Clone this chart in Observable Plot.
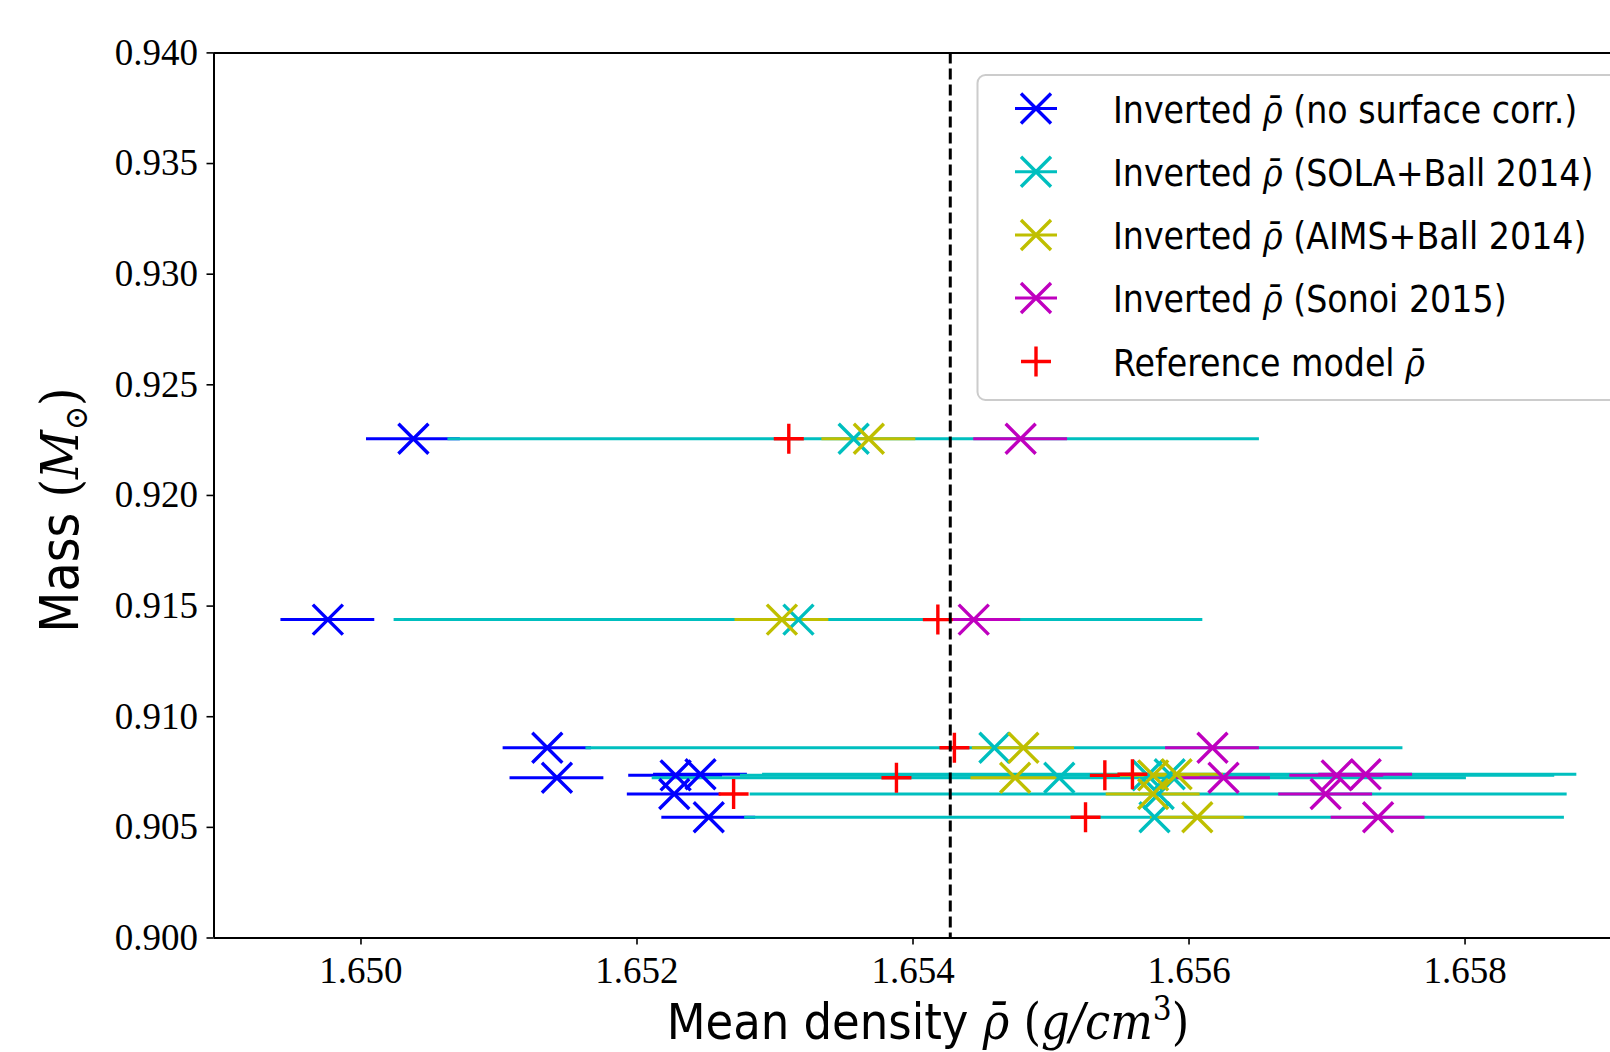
<!DOCTYPE html>
<html>
<head>
<meta charset="utf-8">
<script src="https://cdn.jsdelivr.net/npm/d3@7"></script>
<script src="https://cdn.jsdelivr.net/npm/@observablehq/plot@0.6"></script>
<style>
  html, body { margin: 0; padding: 0; background: #fff; }
  #chart { position: relative; width: 1610px; height: 1052px; overflow: hidden; }
</style>
</head>
<body>
<div id="chart"></div>
<script>
// ---- data ----
const mass = [0.92256, 0.91439, 0.90860, 0.90735, 0.90740, 0.90724, 0.90651, 0.90546];

const rhoNoCorr   = [1.65038, 1.64976, 1.65135, 1.65228, 1.65246, 1.65142, 1.65227, 1.65252];
const errNoCorr   = [0.00034, 0.00034, 0.00032, 0.00034, 0.00034, 0.00034, 0.00034, 0.00034];

const rhoSola     = [1.65357, 1.65317, 1.65459, 1.65570, 1.65586, 1.65506, 1.65578, 1.65575];
const errSola     = [0.00294, 0.00293, 0.00296, 0.00295, 0.00295, 0.00295, 0.00296, 0.00297];

const rhoAims     = [1.65368, 1.65305, 1.65480, 1.65574, 1.65591, 1.65474, 1.65574, 1.65606];
const errAims     = [0.00034, 0.00034, 0.00037, 0.00034, 0.00034, 0.00032, 0.00034, 0.00034];

const rhoSonoi    = [1.65478, 1.65444, 1.65617, 1.65707, 1.65728, 1.65625, 1.65699, 1.65737];
const errSonoi    = [0.00034, 0.00034, 0.00034, 0.00034, 0.00034, 0.00034, 0.00034, 0.00034];

const rhoRef      = [1.65310, 1.65418, 1.65430, 1.65539, 1.65559, 1.65388, 1.65270, 1.65525];

const refLine = 1.65427;

const xTicks = [1.650, 1.652, 1.654, 1.656, 1.658];
const yTicks = [0.900, 0.905, 0.910, 0.915, 0.920, 0.925, 0.930, 0.935, 0.940];
const xDomain = [1.648935, 1.659054];
const yDomain = [0.900, 0.940];

const seriesNames = [
  "Inverted ρ̄ (no surface corr.)",
  "Inverted ρ̄ (SOLA+Ball 2014)",
  "Inverted ρ̄ (AIMS+Ball 2014)",
  "Inverted ρ̄ (Sonoi 2015)",
  "Reference model ρ̄"
];
const seriesColors = ["#0000ff", "#00bfbf", "#bfbf00", "#bf00bf", "#ff0000"];

// ---- build tables ----
const inverted = [
  {vals: rhoNoCorr, errs: errNoCorr, color: seriesColors[0]},
  {vals: rhoSola,   errs: errSola,   color: seriesColors[1]},
  {vals: rhoAims,   errs: errAims,   color: seriesColors[2]},
  {vals: rhoSonoi,  errs: errSonoi,  color: seriesColors[3]}
].map(s => ({
  color: s.color,
  rows: mass.map((m, i) => ({mass: m, rho: s.vals[i], lo: s.vals[i] - s.errs[i], hi: s.vals[i] + s.errs[i]}))
}));
const refRows = mass.map((m, i) => ({mass: m, rho: rhoRef[i]}));

const LW = 3;
const MW = 3.4;
const marks = [];
// error bars first (below all markers, as in matplotlib)
for (const s of inverted) {
  marks.push(Plot.ruleY(s.rows, {y: "mass", x1: "lo", x2: "hi", stroke: s.color, strokeWidth: LW}));
}
for (const s of inverted) {
  marks.push(Plot.dot(s.rows, {x: "rho", y: "mass", symbol: "times", r: 13.7, stroke: s.color, strokeWidth: MW}));
}
marks.push(Plot.dot(refRows, {x: "rho", y: "mass", symbol: "plus", r: 9.7, stroke: seriesColors[4], strokeWidth: MW}));
marks.push(Plot.ruleX([refLine], {stroke: "black", strokeWidth: 3, strokeDasharray: "11,5"}));

const chart = Plot.plot({
  width: 1610,
  height: 1052,
  marginLeft: 213.5,
  marginRight: 0,
  marginTop: 52.4,
  marginBottom: 114.5,
  x: {domain: xDomain},
  y: {domain: yDomain},
  style: {fontFamily: "'Liberation Serif', 'DejaVu Serif', serif", background: "white", color: "black", overflow: "hidden"},
  marks: [
    Plot.axisX({ticks: xTicks, tickFormat: d3.format(".3f"), tickSize: 7, tickPadding: 12, fontSize: 37, label: null, strokeWidth: 1.6}),
    Plot.axisY({ticks: yTicks, tickFormat: d3.format(".3f"), tickSize: 7, tickPadding: 9, fontSize: 37, label: null, strokeWidth: 1.6}),
    ...marks,
    Plot.ruleX([xDomain[0]], {stroke: "black", strokeWidth: 2}),
    Plot.ruleY([yDomain[0], yDomain[1]], {stroke: "black", strokeWidth: 2})
  ]
});
document.getElementById("chart").appendChild(chart);

// ---- axis labels and legend ----
const svg = d3.select(chart);
const SANS = "'DejaVu Sans Condensed', 'DejaVu Sans', sans-serif";
const MATH = "'DejaVu Serif', 'Liberation Serif', serif";

// x label
const xl = svg.append("text")
  .attr("x", 928).attr("y", 1039)
  .attr("text-anchor", "middle")
  .attr("font-family", SANS).style("font-stretch", "condensed")
  .attr("font-size", 50).attr("fill", "black");
xl.append("tspan").text("Mean density ");
xl.append("tspan").attr("font-family", MATH).attr("font-style", "italic").text("ρ̄");
xl.append("tspan").attr("font-family", MATH).text(" (");
xl.append("tspan").attr("font-family", MATH).attr("font-style", "italic").text("g/cm");
xl.append("tspan").attr("font-family", MATH).attr("font-size", 33).attr("dy", -19).text("3");
xl.append("tspan").attr("font-family", MATH).attr("dy", 19).text(")");

// y label
const yl = svg.append("text")
  .attr("transform", "translate(78,510) rotate(-90)")
  .attr("text-anchor", "middle")
  .attr("font-family", SANS).style("font-stretch", "condensed")
  .attr("font-size", 53).attr("fill", "black");
yl.append("tspan").text("Mass ");
yl.append("tspan").attr("font-family", MATH).text("(");
yl.append("tspan").attr("font-family", MATH).attr("font-style", "italic").text("M");
yl.append("tspan").attr("font-family", MATH).attr("font-size", 32).attr("dy", 9).text("⊙");
yl.append("tspan").attr("font-family", MATH).attr("dy", -9).text(")");

// legend
const lg = svg.append("g");
lg.append("rect")
  .attr("x", 977.5).attr("y", 75).attr("width", 700).attr("height", 325)
  .attr("rx", 8).attr("ry", 8)
  .attr("fill", "white").attr("fill-opacity", 0.85)
  .attr("stroke", "#cccccc").attr("stroke-width", 2);
const rowY = [108.5, 171.8, 235, 298, 361.5];
const mx = 1036;
seriesNames.forEach((name, i) => {
  const y = rowY[i];
  const c = seriesColors[i];
  if (i < 4) {
    lg.append("line").attr("x1", mx - 21).attr("x2", mx + 21).attr("y1", y).attr("y2", y)
      .attr("stroke", c).attr("stroke-width", LW);
    lg.append("path").attr("transform", `translate(${mx},${y})`)
      .attr("d", d3.symbol(d3.symbolTimes, 589)())
      .attr("fill", "none").attr("stroke", c).attr("stroke-width", MW);
  } else {
    lg.append("path").attr("transform", `translate(${mx},${y})`)
      .attr("d", d3.symbol(d3.symbolPlus, 295)())
      .attr("fill", "none").attr("stroke", c).attr("stroke-width", MW);
  }
  const t = lg.append("text").attr("x", 1113).attr("y", y + 14)
    .attr("text-anchor", "start")
    .attr("font-family", SANS).style("font-stretch", "condensed")
    .attr("font-size", 37).attr("fill", "black");
  const parts = name.split("ρ̄");
  t.append("tspan").text(parts[0]);
  t.append("tspan").attr("font-family", MATH).attr("font-style", "italic").text("ρ̄");
  t.append("tspan").text(parts[1]);
});
</script>
</body>
</html>
